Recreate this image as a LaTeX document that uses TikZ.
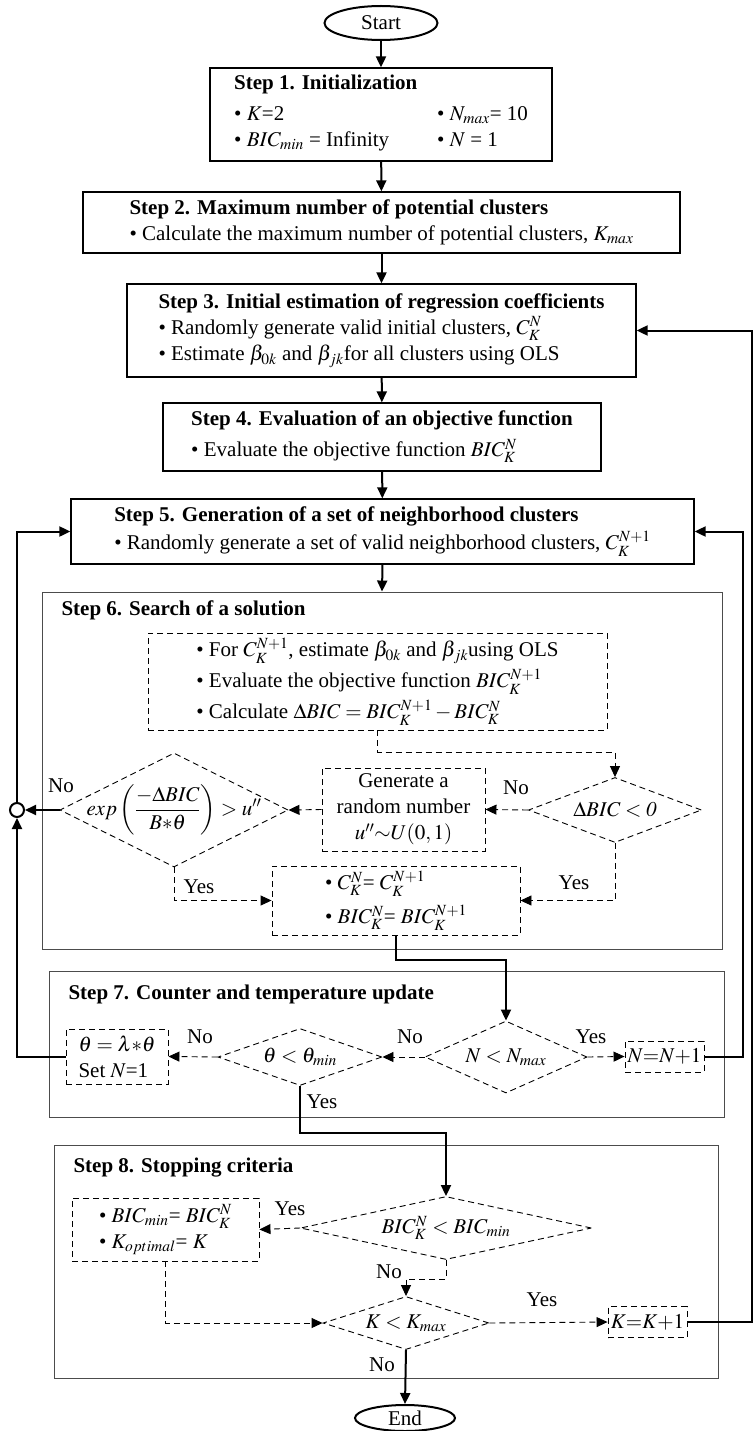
\documentclass[tikz,border=0pt]{standalone}
\usepackage{amsmath}
\usepackage{mathptmx}
\usepackage{fontspec}
\setmainfont{Liberation Serif}
\usetikzlibrary{shapes.geometric, arrows.meta, positioning}

\begin{document}
\begin{tikzpicture}[x=1pt, y=-1pt, font=\fontsize{21}{26}\selectfont,
    stepbox/.style={draw, line width=1.3pt, align=left, inner sep=0pt},
    outerbox/.style={draw=black!70, line width=0.9pt, inner sep=0pt},
    dashbox/.style={draw, dash pattern=on 6pt off 4pt, line width=0.9pt, inner sep=0pt},
    decision/.style={diamond, draw, dash pattern=on 6pt off 4pt, line width=0.9pt, inner sep=0pt},
    terminal/.style={ellipse, draw, line width=2pt, inner sep=0pt},
    flow/.style={line width=2pt, -{Triangle[length=11pt,width=10pt]}},
    dflow/.style={line width=0.9pt, dash pattern=on 6pt off 4pt, -{Triangle[length=11pt,width=10pt]}},
  ]
    \useasboundingbox (0,0) rectangle (753,1431);

    % steps 1 to 5
    \node[terminal, minimum width=113pt, minimum height=34pt] (start) at (381,23) {Start};
    \node[stepbox, minimum width=342pt, minimum height=93pt] (s1) at (381,114.5) {\textbf{Step 1. Initialization}\\[7pt]
        \begin{tabular}{@{}l@{\hspace{48pt}}l@{}}
        • $K$=2 & • $N_{max}$= 10\\
        • $BIC_{min}$ = Infinity & • $N$ = 1
        \end{tabular}};
    \node[stepbox, minimum width=597pt, minimum height=61pt] (s2) at (381.5,222.5) {\textbf{Step 2. Maximum number of potential clusters}\\
        • Calculate the maximum number of potential clusters, $K_{max}$};
    \node[stepbox, minimum width=509pt, minimum height=93pt] (s3) at (381.5,330.5) {\textbf{Step 3. Initial estimation of regression coefficients}\\
        • Randomly generate valid initial clusters, $C_K^N$\\
        • Estimate $\beta_{0k}$ and $\beta_{jk}$for all clusters using OLS};
    \node[stepbox, minimum width=438pt, minimum height=68pt] (s4) at (382,437) {\textbf{Step 4. Evaluation of an objective function}\\[5pt]
        • Evaluate the objective function $BIC_K^N$};
    \node[stepbox, minimum width=623pt, minimum height=65pt] (s5) at (382.5,531.5) {\textbf{Step 5. Generation of a set of neighborhood clusters}\\[2pt]
        • Randomly generate a set of valid neighborhood clusters, $C_K^{N+1}$};

    \draw[flow] (start) -- (s1);
    \draw[flow] (s1) -- (s2);
    \draw[flow] (s2) -- (s3);
    \draw[flow] (s3) -- (s4);
    \draw[flow] (s4) -- (s5);

    % step 6
    \node[outerbox, minimum width=680pt, minimum height=357pt] (s6) at (382,770.5) {};
    \node[anchor=west] (t6) at (58,610) {\textbf{Step 6. Search of a solution}};
    \draw[flow] (s5.south) -- (s6.north);
    \node[dashbox, align=left, minimum width=459pt, minimum height=97pt] (calc) at (377.5,681.5) {• For $C_K^{N+1}$, estimate $\beta_{0k}$ and $\beta_{jk}$using OLS\\[5pt]
        • Evaluate the objective function $BIC_K^{N+1}$\\[5pt]
        • Calculate $\Delta BIC = BIC_K^{N+1} - BIC_K^N$};
    \node[decision, minimum width=173pt, minimum height=65pt, label=center:{$\Delta BIC < \mathit{0}$}] (dbic) at (615,810) {};
    \node[dashbox, align=center, minimum width=163pt, minimum height=83pt] (gen) at (403.5,809.5) {Generate a\\ random number\\ $u''{\sim}U(0,1)$};
    \node[decision, minimum width=228pt, minimum height=114pt, label=center:{$exp\left(\dfrac{-\Delta BIC}{B{*}\theta}\right) > u''$}] (accept) at (174,810) {};
    \node[dashbox, align=left, minimum width=248pt, minimum height=69pt] (upd) at (396,900.5) {• $C_K^N$= $C_K^{N+1}$\\[8pt]
        • $BIC_K^N$= $BIC_K^{N+1}$};
    \node[circle, draw, line width=2pt, fill=white, minimum size=14pt, inner sep=0pt] (junc) at (17,810) {};

    \node (no1) at (516,788) {No};
    \node (no2) at (61,786) {No};
    \node (yes1) at (199,887) {Yes};
    \node (yes2) at (574,883) {Yes};

    \draw[dflow] (calc.south) -- ++(0,22) -| (dbic.north);
    \draw[dflow] (dbic.west) -- (gen.east);
    \draw[dflow] (gen.west) -- (accept.east);
    \draw[flow] (accept.west) -- (junc.east);
    \draw[dflow] (accept.south) |- (upd.west);
    \draw[dflow] (dbic.south) |- (upd.east);

    % step 7
    \node[outerbox, minimum width=675pt, minimum height=146pt] (s7) at (386.5,1044) {};
    \node[anchor=west] (t7) at (65,994) {\textbf{Step 7. Counter and temperature update}};
    \node[decision, minimum width=162pt, minimum height=72pt, label=center:{$N < N_{max}$}] (nmax) at (506,1057) {};
    \node[dashbox, minimum width=79pt, minimum height=31pt] (ninc) at (664.5,1056.5) {$N{=}N{+}1$};
    \node[decision, minimum width=164pt, minimum height=57pt, label=center:{$\theta < \theta_{min}$}] (tmin) at (300,1057) {};
    \node[dashbox, align=left, minimum width=102pt, minimum height=55pt] (cool) at (117,1056.5) {$\theta = \lambda{*}\theta$\\ Set $N$=1};

    \node (yes3) at (591,1037) {Yes};
    \node (no3) at (410,1037) {No};
    \node (no4) at (200,1037) {No};
    \node (yes4) at (322,1102) {Yes};

    \draw[flow] (upd.south) -- ++(0,25) -| (nmax.north);
    \draw[dflow] (nmax.east) -- (ninc.west);
    \draw[flow] (ninc.east) -- (743,1056.5) |- (s5.east);
    \draw[dflow] (nmax.west) -- (tmin.east);
    \draw[dflow] (tmin.west) -- (cool.east);
    \draw[flow] (cool.west) -| (junc.south);
    \draw[flow] (junc.north) |- (s5.west);

    % step 8
    \node[outerbox, minimum width=664pt, minimum height=233pt] (s8) at (386,1261.5) {};
    \node[anchor=west] (t8) at (70,1168) {\textbf{Step 8. Stopping criteria}};
    \node[decision, minimum width=291pt, minimum height=63pt, label=center:{$BIC_K^N < BIC_{min}$}] (best) at (446,1228) {};
    \node[dashbox, align=left, minimum width=187pt, minimum height=63pt] (keep) at (165.5,1229.5) {• $BIC_{min}$= $BIC_K^N$\\
        • $K_{optimal}$= $K$};
    \node[decision, minimum width=166pt, minimum height=53pt, label=center:{$K < K_{max}$}] (kmax) at (406,1323) {};
    \node[dashbox, minimum width=79pt, minimum height=31pt] (kinc) at (647.5,1322) {$K{=}K{+}1$};
    \node[terminal, minimum width=100pt, minimum height=26pt] (end) at (405,1418) {End};

    \node (yes5) at (290,1209) {Yes};
    \node (no5) at (389,1272) {No};
    \node (yes6) at (542,1300) {Yes};
    \node (no6) at (382,1365) {No};

    \draw[flow] (tmin.south) -- ++(0,47) -| (best.north);
    \draw[dflow] (best.west) -- (keep.east);
    \draw[dflow] (best.south) -- ++(0,19) -| (kmax.north);
    \draw[dflow] (keep.south) |- (kmax.west);
    \draw[dflow] (kmax.east) -- (kinc.west);
    \draw[flow] (kinc.east) -- (752,1322) |- (s3.east);
    \draw[flow] (kmax.south) -- (end.north);
\end{tikzpicture}
\end{document}
